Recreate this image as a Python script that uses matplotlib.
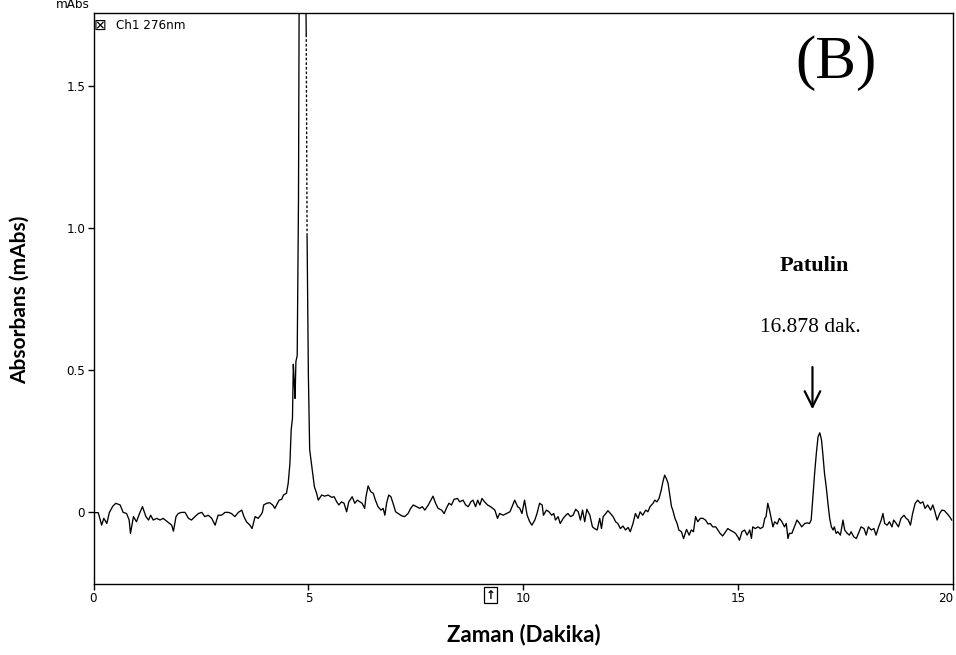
#!/usr/bin/env python3
"""HPLC chromatogram (B): patulin peak at 16.878 min."""

import matplotlib
matplotlib.use('Agg')
import matplotlib.pyplot as plt
from matplotlib.font_manager import FontProperties

# retention time (min) and absorbance (mAbs)
time_min = [
    0.00, 0.11, 0.19, 0.24, 0.31, 0.37, 0.45, 0.52, 0.62, 0.69, 0.77, 0.83, 0.86, 0.93,
    1.00, 1.07, 1.14, 1.22, 1.28, 1.33, 1.39, 1.47, 1.55, 1.62, 1.72, 1.82, 1.86, 1.92,
    1.97, 2.05, 2.13, 2.21, 2.28, 2.36, 2.44, 2.52, 2.59, 2.67, 2.75, 2.83, 2.90, 2.98,
    3.06, 3.14, 3.21, 3.29, 3.37, 3.45, 3.50, 3.56, 3.64, 3.69, 3.76, 3.83, 3.89, 3.93,
    3.96, 4.03, 4.10, 4.17, 4.22, 4.26, 4.32, 4.38, 4.42, 4.49, 4.53,
    4.57, 4.60, 4.63, 4.65, 4.67, 4.69, 4.71, 4.74, 4.77, 4.80, 4.90, 4.95,
    4.97, 5.00, 5.03, 5.09, 5.14, 5.19, 5.23,
    5.31, 5.38, 5.46, 5.54, 5.60, 5.66, 5.71, 5.77, 5.83, 5.89, 5.94, 6.02, 6.08, 6.14,
    6.20, 6.25, 6.31, 6.34, 6.39, 6.45, 6.51, 6.56, 6.62, 6.69, 6.74, 6.78, 6.82, 6.87,
    6.92, 6.97, 7.03, 7.09, 7.17, 7.24, 7.32, 7.38, 7.44, 7.52, 7.59, 7.65, 7.71, 7.79,
    7.85, 7.90, 7.96, 8.02, 8.10, 8.16, 8.21, 8.27, 8.33, 8.39, 8.47, 8.52, 8.60, 8.66,
    8.72, 8.78, 8.83, 8.89, 8.94, 8.99, 9.04, 9.10, 9.17, 9.24, 9.34, 9.40, 9.45, 9.53,
    9.61, 9.69, 9.74, 9.80, 9.87, 9.92, 9.97,
    10.03, 10.09, 10.15, 10.20, 10.27, 10.32, 10.38, 10.44, 10.47, 10.54, 10.60, 10.66,
    10.71, 10.75, 10.81, 10.86, 10.93, 10.99, 11.04, 11.10, 11.16, 11.22, 11.28, 11.33,
    11.38, 11.43, 11.48, 11.55, 11.61, 11.66, 11.72, 11.78, 11.82, 11.86, 11.92, 11.97,
    12.03, 12.09, 12.15, 12.20, 12.26, 12.32, 12.38, 12.44, 12.49, 12.55, 12.61, 12.67,
    12.72, 12.78, 12.85, 12.90, 12.95, 13.02, 13.06, 13.11, 13.16, 13.21, 13.25, 13.29,
    13.33, 13.37, 13.41, 13.45, 13.48, 13.53, 13.58, 13.62, 13.68, 13.73, 13.80, 13.86,
    13.91, 13.96, 14.01, 14.06, 14.12, 14.18, 14.24, 14.30, 14.35, 14.41, 14.48, 14.53,
    14.58, 14.64, 14.71, 14.76, 14.81, 14.88, 14.94, 15.00,
    15.03, 15.09, 15.15, 15.21, 15.27, 15.31, 15.34, 15.40, 15.46, 15.52, 15.58, 15.62,
    15.65, 15.69, 15.73, 15.77, 15.81, 15.85, 15.91, 15.96, 16.02, 16.08, 16.12, 16.16,
    16.19, 16.25, 16.31, 16.37, 16.43, 16.48, 16.55, 16.61, 16.66, 16.70, 16.74, 16.78,
    16.82, 16.86, 16.90, 16.94, 16.97, 17.01, 17.05, 17.09, 17.13, 17.17, 17.21, 17.24,
    17.28, 17.32, 17.38, 17.44, 17.48, 17.54, 17.59, 17.63, 17.69, 17.75, 17.80, 17.86,
    17.93, 17.98, 18.03, 18.10, 18.16, 18.21, 18.27, 18.33, 18.37, 18.41, 18.47, 18.52,
    18.58, 18.62, 18.68, 18.73, 18.79, 18.86, 18.91, 18.96, 19.01, 19.06, 19.12, 19.18,
    19.24, 19.30, 19.35, 19.41, 19.48, 19.53, 19.58, 19.63, 19.69, 19.74, 19.80, 19.86,
    19.92, 19.97,
]
absorbance = [
    -0.002, -0.002, -0.046, -0.022, -0.040, -0.001, 0.021, 0.031, 0.025, -0.001, -0.005, -0.028, -0.075, -0.016,
    -0.034, -0.005, 0.019, -0.016, -0.028, -0.011, -0.028, -0.022, -0.028, -0.022, -0.034, -0.046, -0.067, -0.016,
    -0.005, -0.001, -0.001, -0.022, -0.028, -0.016, -0.005, -0.001, -0.016, -0.011, -0.022, -0.046, -0.011, -0.011,
    -0.001, -0.001, -0.005, -0.016, -0.001, 0.007, -0.016, -0.034, -0.046, -0.058, -0.016, -0.022, -0.011, -0.001,
    0.025, 0.031, 0.033, 0.025, 0.013, 0.025, 0.042, 0.045, 0.060, 0.066, 0.101,
    0.17, 0.29, 0.33, 0.52, 0.46, 0.40, 0.53, 0.55, 1.10, 2.50, 2.50, 1.68,
    0.97, 0.48, 0.22, 0.148, 0.089, 0.067, 0.042,
    0.060, 0.056, 0.060, 0.052, 0.054, 0.036, 0.025, 0.036, 0.031, 0.001, 0.036, 0.054, 0.031, 0.042,
    0.036, 0.031, 0.013, 0.054, 0.092, 0.072, 0.066, 0.042, 0.019, 0.007, 0.013, -0.011, 0.031, 0.060,
    0.054, 0.031, 0.001, -0.005, -0.013, -0.016, -0.005, 0.013, 0.025, 0.019, 0.013, 0.019, 0.007, 0.025,
    0.042, 0.056, 0.031, 0.013, 0.007, -0.005, 0.013, 0.031, 0.025, 0.045, 0.048, 0.036, 0.042, 0.025,
    0.019, 0.036, 0.042, 0.019, 0.042, 0.025, 0.048, 0.036, 0.025, 0.019, 0.007, -0.022, -0.005, -0.011,
    -0.005, 0.001, 0.019, 0.042, 0.019, 0.013, -0.005,
    0.042, -0.011, -0.034, -0.046, -0.028, -0.005, 0.031, 0.025, -0.011, 0.007, 0.001, -0.011,
    -0.005, -0.028, -0.016, -0.040, -0.022, -0.011, -0.005, -0.016, -0.011, 0.010, 0.001, -0.028,
    0.007, -0.034, 0.010, -0.011, -0.052, -0.058, -0.063, -0.022, -0.058, -0.016, -0.005, 0.005,
    -0.005, -0.016, -0.034, -0.040, -0.058, -0.049, -0.063, -0.054, -0.069, -0.042, -0.005, -0.022,
    0.001, -0.011, 0.007, 0.001, 0.019, 0.031, 0.042, 0.036, 0.048, 0.077, 0.107, 0.130,
    0.118, 0.101, 0.060, 0.019, 0.007, -0.022, -0.040, -0.063, -0.069, -0.093, -0.061, -0.081,
    -0.063, -0.069, -0.016, -0.034, -0.022, -0.022, -0.028, -0.042, -0.040, -0.052, -0.052, -0.063,
    -0.075, -0.084, -0.069, -0.058, -0.063, -0.069, -0.075, -0.089,
    -0.099, -0.069, -0.063, -0.081, -0.063, -0.093, -0.052, -0.058, -0.052, -0.058, -0.052, -0.022,
    -0.016, 0.031, 0.007, -0.022, -0.052, -0.034, -0.042, -0.022, -0.034, -0.052, -0.040, -0.093,
    -0.075, -0.075, -0.052, -0.028, -0.040, -0.052, -0.040, -0.038, -0.040, -0.028, 0.054, 0.136,
    0.207, 0.265, 0.279, 0.254, 0.207, 0.136, 0.089, 0.031, -0.022, -0.052, -0.063, -0.052,
    -0.075, -0.069, -0.081, -0.028, -0.063, -0.075, -0.081, -0.069, -0.087, -0.093, -0.075, -0.052,
    -0.058, -0.081, -0.052, -0.063, -0.058, -0.081, -0.052, -0.028, -0.005, -0.040, -0.046, -0.034,
    -0.052, -0.028, -0.040, -0.052, -0.022, -0.011, -0.022, -0.028, -0.046, -0.005, 0.031, 0.042,
    0.031, 0.036, 0.013, 0.025, 0.007, 0.025, 0.001, -0.028, -0.005, 0.007, 0.005, -0.005,
    -0.016, -0.028,
]
# the off-scale main peak comes back down as a dashed stroke after this point
DASH_AT = time_min.index(4.95)

x_ticks = [0, 5, 10, 15, 20]
y_ticks = [0, 0.5, 1.0, 1.5]
y_tick_labels = ["0", "0.5", "1.0", "1.5"]

PEAK_NAME = "Patulin"
PEAK_TIME = "16.878 dak."
PANEL = "(B)"
CHANNEL = "Ch1 276nm"
EVENT_T = 9.24

W, H = 956, 655
fig = plt.figure(figsize=(W / 100, H / 100), dpi=100)
ax = fig.add_axes([93.5 / W, 1 - 584 / H, (953 - 93.5) / W, (584 - 12.7) / H])

k = DASH_AT
ax.plot(time_min[:k + 1], absorbance[:k + 1], color="black", lw=0.95)
ax.plot(time_min[k:k + 2], absorbance[k:k + 2], color="black", lw=0.95, ls=(0, (2, 1.5)))
ax.plot(time_min[k + 1:], absorbance[k + 1:], color="black", lw=0.95)

ax.set_xlim(0, 20)
ax.set_ylim(-0.253, 1.757)
ax.set_xticks(x_ticks)
ax.set_xticklabels([str(v) for v in x_ticks])
ax.set_yticks(y_ticks)
ax.set_yticklabels(y_tick_labels)

tick_font = FontProperties(family="DejaVu Sans", stretch="condensed", size=9.5)
for lab in ax.get_xticklabels() + ax.get_yticklabels():
    lab.set_fontproperties(tick_font)
# last x label sits right at the figure edge: keep it inside
ax.get_xticklabels()[-1].set_horizontalalignment("right")
ax.tick_params(direction="out", length=4, width=1, pad=2, colors="black")
for sp in ax.spines.values():
    sp.set_linewidth(1.0)

# channel legend in the top-left corner
ax.text(0.0075, 0.978, "\u22a0", transform=ax.transAxes, ha="center", va="center",
        fontsize=11, family="DejaVu Sans")
ax.text(0.026, 0.978, CHANNEL, transform=ax.transAxes, ha="left", va="center",
        fontproperties=tick_font)
fig.text(90 / W, 1 - 5 / H, "mAbs", ha="right", va="center", fontproperties=tick_font)

# event marker below the x axis
ax.text(EVENT_T, -0.008, "\u2191", transform=ax.get_xaxis_transform(), ha="center", va="top",
        fontsize=8.5, fontweight="bold", family="DejaVu Sans",
        bbox=dict(boxstyle="square,pad=0.1", fc="white", ec="black", lw=0.9))

# peak annotation
ax.text(16.78, 0.865, PEAK_NAME, ha="center", va="center", fontsize=16,
        family="Liberation Serif", fontweight="bold")
ax.text(16.69, 0.651, PEAK_TIME, ha="center", va="center", fontsize=15.5,
        family="Liberation Serif")
ax.annotate("", xy=(16.73, 0.352), xytext=(16.73, 0.52),
            arrowprops=dict(arrowstyle="->", lw=1.6, color="black", mutation_scale=28))
ax.text(17.27, 1.58, PANEL, ha="center", va="center", fontsize=44, family="Liberation Serif")

fig.text(523.5 / W, 1 - 635 / H, "Zaman (Dakika)", ha="center", va="center",
         fontsize=16, fontweight="bold", family="Lato")
fig.text(20 / W, 1 - 300 / H, "Absorbans (mAbs)", ha="center", va="center", rotation=90,
         fontsize=15, fontweight="bold", family="Lato")

fig.savefig("out.png", dpi=100)
plt.close(fig)
